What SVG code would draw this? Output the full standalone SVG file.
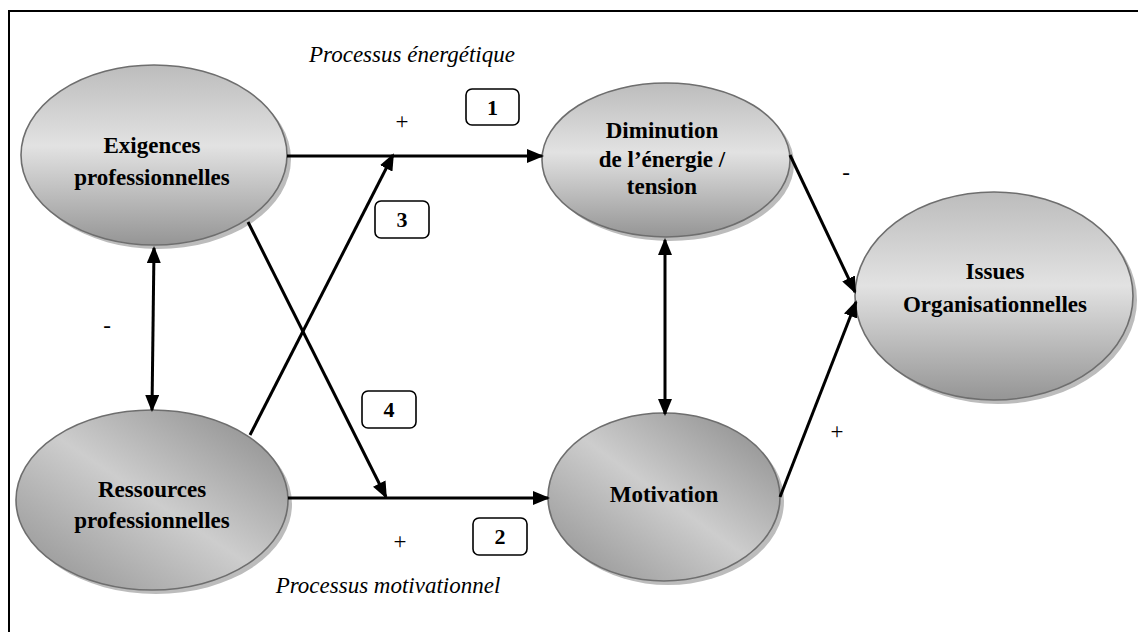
<svg xmlns="http://www.w3.org/2000/svg" width="1138" height="632" viewBox="0 0 1138 632">
<defs>
<linearGradient id="gv" x1="0" y1="0" x2="0" y2="1">
<stop offset="0" stop-color="#bcbcbc"/>
<stop offset="0.45" stop-color="#e2e2e2"/>
<stop offset="1" stop-color="#959595"/>
</linearGradient>
<linearGradient id="gd" x1="0" y1="1" x2="1" y2="0">
<stop offset="0" stop-color="#8e8e8e"/>
<stop offset="0.5" stop-color="#cdcdcd"/>
<stop offset="1" stop-color="#878787"/>
</linearGradient>
<marker id="ah" viewBox="0 0 17 14" refX="15" refY="7" markerWidth="17" markerHeight="14" markerUnits="userSpaceOnUse" orient="auto-start-reverse">
<path d="M0,0 L17,7 L0,14 z" fill="#000"/>
</marker>
<style>
.sh{fill:#bcbcbc;}
.el{stroke:#6e6e6e;stroke-width:1.6;}
.nt{font-family:"Liberation Serif","Times New Roman",serif;font-weight:bold;font-size:23px;fill:#000;text-anchor:middle;}
.num{font-family:"Liberation Serif","Times New Roman",serif;font-weight:bold;font-size:22px;fill:#000;text-anchor:middle;}
.it{font-family:"Liberation Serif","Times New Roman",serif;font-style:italic;font-size:23px;fill:#000;text-anchor:middle;}
.sg{font-family:"Liberation Serif","Times New Roman",serif;font-size:23px;fill:#000;text-anchor:middle;}
.cn{fill:none;stroke:#000;stroke-width:3;}
.bx{fill:#fff;stroke:#000;stroke-width:1.6;}
</style>
</defs>
<rect x="0" y="0" width="1138" height="632" fill="#fff"/>
<rect x="9" y="11" width="1160" height="660" fill="none" stroke="#000" stroke-width="2"/>

<g id="exigences">
<ellipse class="sh" cx="158" cy="159" rx="133" ry="90"/>
<ellipse class="el" cx="154" cy="155" rx="133" ry="90" fill="url(#gv)"/>
<text class="nt" x="152" y="153">Exigences</text>
<text class="nt" x="152" y="185">professionnelles</text>
</g>
<g id="ressources">
<ellipse class="sh" cx="156" cy="504" rx="136" ry="90"/>
<ellipse class="el" cx="152" cy="500" rx="136" ry="90" fill="url(#gd)"/>
<text class="nt" x="152" y="497">Ressources</text>
<text class="nt" x="152" y="528">professionnelles</text>
</g>
<g id="diminution">
<ellipse class="sh" cx="670" cy="164" rx="124" ry="77"/>
<ellipse class="el" cx="666" cy="160" rx="124" ry="77" fill="url(#gv)"/>
<text class="nt" x="662" y="138">Diminution</text>
<text class="nt" x="662" y="167">de l’énergie /</text>
<text class="nt" x="662" y="194">tension</text>
</g>
<g id="motivation">
<ellipse class="sh" cx="668" cy="501" rx="116" ry="84"/>
<ellipse class="el" cx="664" cy="497" rx="116" ry="84" fill="url(#gd)"/>
<text class="nt" x="664" y="502">Motivation</text>
</g>
<g id="issues">
<ellipse class="sh" cx="998" cy="300" rx="139" ry="104"/>
<ellipse class="el" cx="994" cy="296" rx="139" ry="104" fill="url(#gv)"/>
<text class="nt" x="995" y="279">Issues</text>
<text class="nt" x="995" y="312">Organisationnelles</text>
</g>

<g id="connectors">
<path class="cn" d="M287,156 L542,156" marker-end="url(#ah)"/>
<path class="cn" d="M288,498 L548,498" marker-end="url(#ah)"/>
<path class="cn" d="M250,435 L393,155" marker-end="url(#ah)"/>
<path class="cn" d="M248,222 L386,497" marker-end="url(#ah)"/>
<path class="cn" d="M154,248 L152,410" marker-start="url(#ah)" marker-end="url(#ah)"/>
<path class="cn" d="M665,240 L665,414" marker-start="url(#ah)" marker-end="url(#ah)"/>
<path class="cn" d="M790,155 L855,292" marker-end="url(#ah)"/>
<path class="cn" d="M780,497 L856,302" marker-end="url(#ah)"/>
</g>

<g id="labels">
<text class="it" x="412" y="62">Processus énergétique</text>
<text class="it" x="388" y="593">Processus motivationnel</text>
<text class="sg" x="402" y="129">+</text>
<text class="sg" x="400" y="549">+</text>
<text class="sg" x="837" y="439">+</text>
<text class="sg" x="107" y="333">-</text>
<text class="sg" x="846" y="180">-</text>
</g>

<g id="box1"><rect class="bx" x="466" y="89" width="53" height="36" rx="6"/><text class="num" x="492.5" y="115">1</text></g>
<g id="box2"><rect class="bx" x="473" y="518" width="54" height="37" rx="6"/><text class="num" x="500" y="544">2</text></g>
<g id="box3"><rect class="bx" x="375" y="201" width="54" height="37" rx="6"/><text class="num" x="402" y="227">3</text></g>
<g id="box4"><rect class="bx" x="362" y="391" width="54" height="37" rx="6"/><text class="num" x="389" y="417">4</text></g>
</svg>
